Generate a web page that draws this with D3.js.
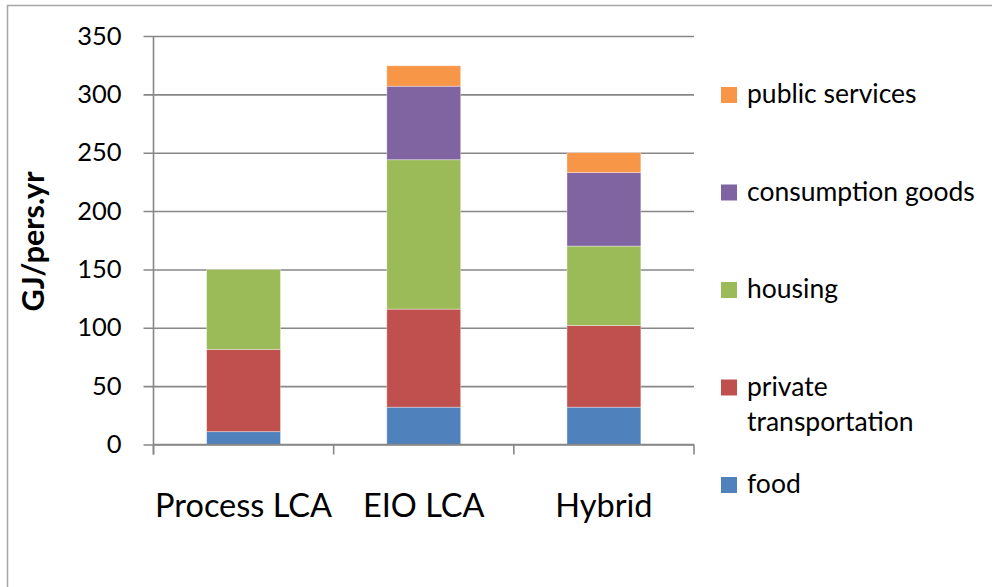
<!DOCTYPE html>
<html>
<head>
<meta charset="utf-8">
<script src="https://cdn.jsdelivr.net/npm/d3@7"></script>
<style>
  html, body { margin: 0; padding: 0; background: #fff; }
  svg { display: block; font-family: Lato, "Open Sans", sans-serif; }
</style>
</head>
<body>
<svg id="chart" width="992" height="587"></svg>
<script>
// Primary energy use per person, by method and consumption category (GJ/pers.yr)
const methods = ["Process LCA", "EIO LCA", "Hybrid"];
const seriesNames = ["food", "private transportation", "housing", "consumption goods", "public services"];
const food = [11, 32, 32];
const privateTransportation = [70.5, 84, 70];
const housing = [68.5, 128, 68];
const consumptionGoods = [0, 63, 63];
const publicServices = [0, 17.5, 17];
const yTicks = [0, 50, 100, 150, 200, 250, 300, 350];
const colors = ["#4F81BD", "#C0504D", "#9BBB59", "#8064A2", "#F79646"];

const seriesValues = [food, privateTransportation, housing, consumptionGoods, publicServices];
const rows = methods.map((m, i) => {
  const r = { method: m };
  seriesNames.forEach((s, k) => { r[s] = seriesValues[k][i]; });
  return r;
});

const svg = d3.select("#chart");
const plot = { left: 153.5, right: 694, top: 36, bottom: 444.5 };
const gridColor = "#878787";

// outer frame (extends past the right and bottom edges)
svg.append("rect")
  .attr("x", 7.5).attr("y", 5.5)
  .attr("width", 1100).attr("height", 700)
  .attr("fill", "none").attr("stroke", "#a6a6a6").attr("stroke-width", 1.5);

const y = d3.scaleLinear().domain([0, 350]).range([plot.bottom, plot.top]);
const xCat = d3.scaleBand().domain(methods).range([plot.left, plot.right]);
const xBar = d3.scaleBand().domain(methods).range([plot.left, plot.right])
  .paddingInner(0.59).paddingOuter(0.295);

// gridlines with outside tick marks and labels
const yAxis = d3.axisLeft(y).tickValues(yTicks).tickSize(plot.right - plot.left + 10).tickPadding(22);
const gy = svg.append("g")
  .attr("transform", `translate(${plot.right},0)`)
  .call(yAxis);
gy.select(".domain").remove();
gy.selectAll(".tick line").attr("stroke", gridColor).attr("stroke-width", 1.6);
gy.selectAll(".tick text")
  .attr("x", 121.5 - plot.right)
  .attr("fill", "#000")
  .style("font-size", "25.5px")
  .style("font-family", "Lato, sans-serif");

// vertical axis line
svg.append("line")
  .attr("x1", plot.left).attr("x2", plot.left)
  .attr("y1", plot.top).attr("y2", plot.bottom + 10)
  .attr("stroke", gridColor).attr("stroke-width", 1.6);

// stacked bars
const stack = d3.stack().keys(seriesNames);
const layers = stack(rows);
svg.append("g").selectAll("g")
  .data(layers)
  .join("g")
  .attr("fill", (d, i) => colors[i])
  .selectAll("rect")
  .data(d => d.filter(p => p[1] - p[0] > 0))
  .join("rect")
  .attr("x", d => xBar(d.data.method))
  .attr("width", xBar.bandwidth())
  .attr("y", d => y(d[1]))
  .attr("height", d => y(d[0]) - y(d[1]))
  .attr("stroke", "rgba(255,255,255,0.45)")
  .attr("stroke-width", 0.8);

// category axis along the bottom
const xAxis = d3.axisBottom(xCat).tickSize(0).tickPadding(0);
const gx = svg.append("g")
  .attr("transform", `translate(0,${plot.bottom})`)
  .call(xAxis);
gx.select(".domain").remove();
gx.selectAll(".tick text")
  .attr("y", 72).attr("dy", 0)
  .attr("fill", "#000")
  .style("font-size", "32.5px")
  .style("font-family", "Lato, sans-serif");
svg.append("line")
  .attr("x1", plot.left).attr("x2", plot.right)
  .attr("y1", plot.bottom).attr("y2", plot.bottom)
  .attr("stroke", gridColor).attr("stroke-width", 1.6);
// boundary ticks between categories
const boundaries = methods.map(m => xCat(m)).concat([xCat(methods[methods.length - 1]) + xCat.bandwidth()]);
svg.append("g").selectAll("line")
  .data(boundaries)
  .join("line")
  .attr("x1", d => d).attr("x2", d => d)
  .attr("y1", plot.bottom).attr("y2", plot.bottom + 10)
  .attr("stroke", gridColor).attr("stroke-width", 1.6);

// y axis title
svg.append("text")
  .attr("transform", "translate(44,241.5) rotate(-90)")
  .attr("text-anchor", "middle")
  .style("font-size", "30.5px")
  .style("font-weight", "bold")
  .text("GJ/pers.yr");

// legend, top to bottom in reverse stacking order
const legendOrder = seriesNames.map((s, i) => ({ name: s, color: colors[i] })).reverse();
const legendY = d3.scalePoint().domain(legendOrder.map(d => d.name)).range([95, 485]);
const lg = svg.append("g").selectAll("g")
  .data(legendOrder)
  .join("g")
  .attr("transform", d => `translate(721,${legendY(d.name)})`);
lg.append("rect")
  .attr("x", 0).attr("y", -8).attr("width", 16).attr("height", 16)
  .attr("fill", d => d.color);
lg.append("text")
  .attr("x", 26).attr("y", 8)
  .style("font-size", "26.5px")
  .each(function (d) {
    const t = d3.select(this);
    const lines = d.name === "private transportation" ? ["private", "transportation"] : [d.name];
    lines.forEach((ln, i) => {
      t.append("tspan").attr("x", 26).attr("dy", i === 0 ? 0 : 35).text(ln);
    });
  });
</script>
</body>
</html>
